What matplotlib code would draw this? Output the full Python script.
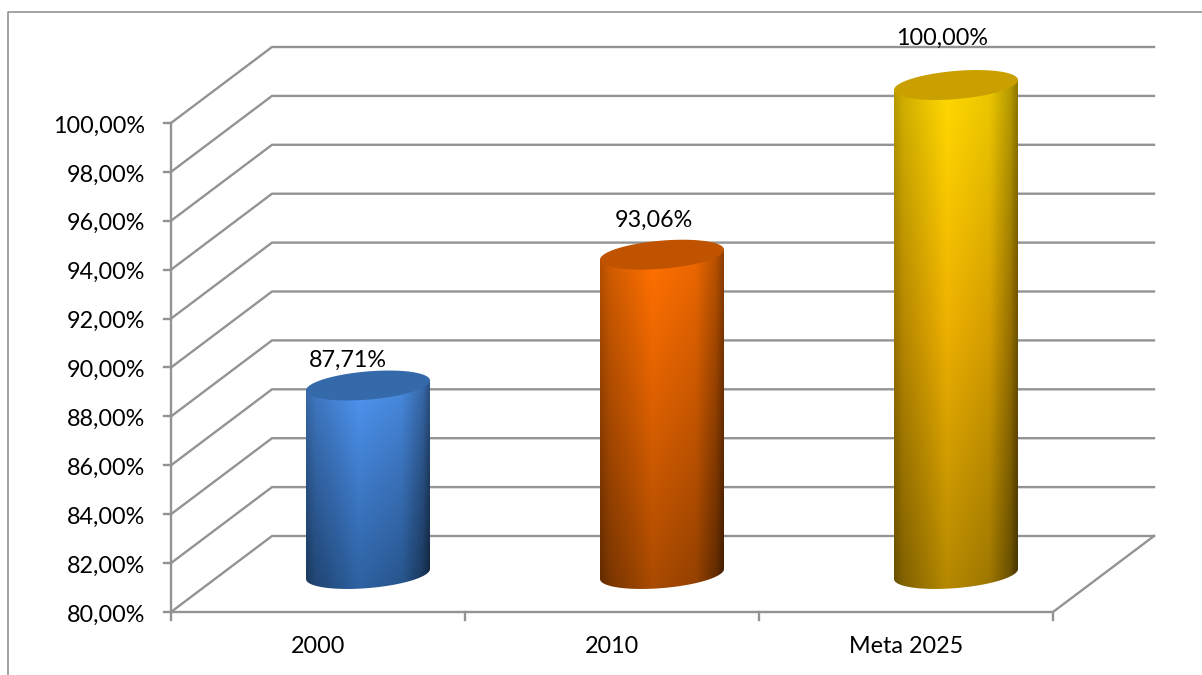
import numpy as np
import matplotlib
matplotlib.use("Agg")
import matplotlib.pyplot as plt
from matplotlib.lines import Line2D
from matplotlib.patches import Polygon
from matplotlib.colors import to_rgb

categories = ["2000", "2010", "Meta 2025"]
values = [87.71, 93.06, 100.00]
value_labels = ["87,71%", "93,06%", "100,00%"]
y_ticks = [80, 82, 84, 86, 88, 90, 92, 94, 96, 98, 100]
y_tick_labels = ["80,00%", "82,00%", "84,00%", "86,00%", "88,00%", "90,00%",
                 "92,00%", "94,00%", "96,00%", "98,00%", "100,00%"]
top_colors = ["#4F96F2", "#FF7000", "#FFD600"]
mid_colors = ["#3F7CCB", "#DA5F00", "#EDB000"]
bottom_colors = ["#2C609F", "#A84A00", "#B48800"]
lid_colors = ["#3469AA", "#C05300", "#C9A000"]
label_offsets = [(-20, 65), (-8, 74), (-14, 86)]  # px from column front top

W, H = 1202, 675
GRID = "#939393"
FONT = "Lato"
FS = 16.8

fig = plt.figure(figsize=(W / 100, H / 100), dpi=100, facecolor="white")
L, R, B, T = 171, 1053, 612, 123
ax = fig.add_axes([L / W, 1 - B / H, (R - L) / W, (B - T) / H])
ax.set_xlim(0, 3)
ax.set_ylim(80, 100)
ax.axis("off")

ux = (R - L) / 3      # px per category
uy = (B - T) / 20     # px per value unit
dx, dy = 101 / ux, 76 / uy  # depth of the 3D box in data units

# frame of the chart object
fig.add_artist(Line2D([7.5 / W, 7.5 / W, 1], [0, 1 - 11.5 / H, 1 - 11.5 / H],
                      color="#8a8a8a", lw=1.1))

lk = dict(color=GRID, lw=1.7, clip_on=False, solid_joinstyle="miter", zorder=1)
for i, t in enumerate(y_ticks):
    ax.plot([0, dx, 3 + dx], [t, t + dy, t + dy], **lk)
    ax.plot([-7 / ux, 0], [t, t], **lk)
    ax.text(-26 / ux, t - 3 / uy, y_tick_labels[i], ha="right", va="center",
            family=FONT, fontsize=FS, color="black", clip_on=False)
ax.plot([0, 0], [80, 100], **lk)
ax.plot([0, 3, 3 + dx], [80, 80, 80 + dy], **lk)
for i in range(4):
    ax.plot([i, i], [80, 80 - 8 / uy], **lk)
for i, c in enumerate(categories):
    ax.text(i + 0.5, 80 - 35 / uy, c,
            ha="center", va="center", family=FONT, fontsize=FS, color="black",
            clip_on=False)

# cylinders
a = 62 / ux          # half width
tilt = 5 / uy        # rise of the ellipse's long axis
b = 14.1 / uy        # remaining minor extent
off_x, off_y = 50 / ux, 38 / uy
tt = np.linspace(0, 2 * np.pi, 200)


def ellipse(cx, cy):
    return cx + a * np.cos(tt), cy + tilt * np.cos(tt) + b * np.sin(tt)


for i, (v, c_top, c_mid, c_bot, lid) in enumerate(
        zip(values, top_colors, mid_colors, bottom_colors, lid_colors)):
    cx = i + 0.5 + off_x
    y0, y1 = 80 + off_y, v + off_y
    t_low = np.linspace(np.pi, 2 * np.pi, 100)
    xl = cx + a * np.cos(t_low)
    yl = y0 + tilt * np.cos(t_low) + b * np.sin(t_low)
    poly = np.column_stack([np.r_[xl, cx + a, cx - a],
                            np.r_[yl, y1 + tilt, y1 - tilt]])
    nx, ny = 200, 300
    u = np.linspace(-1, 1, nx)
    d = np.linspace(0, 1, ny)  # 0 at top, 1 at bottom
    fx = np.interp(u, [-1, -0.85, -0.15, 0.55, 0.88, 1], [0.72, 0.82, 1.0, 0.92, 0.72, 0.56])
    rgb = np.array([to_rgb(c_top), to_rgb(c_mid), to_rgb(c_bot)])
    pos = [0.08, 0.5, 1.0]
    col = np.stack([np.interp(d, pos, rgb[:, k]) for k in range(3)], axis=1)
    power = 1 + 0.7 * d
    shade = fx[None, :] ** power[:, None]
    img = np.clip(col[:, None, :] * shade[..., None], 0, 1)
    ymin, ymax = y0 - b - tilt, y1 + b + tilt
    im = ax.imshow(img, extent=[cx - a, cx + a, ymin, ymax], origin="upper",
                   aspect="auto", interpolation="bilinear", zorder=3)
    p = Polygon(poly, closed=True, transform=ax.transData, fc="none", ec="none", clip_on=False)
    ax.add_patch(p)
    im.set_clip_box(fig.bbox)
    im.set_clip_path(p)
    ex, ey = ellipse(cx, y1)
    ax.fill(ex, ey, color=lid, lw=0, zorder=4, clip_on=False)
    ax.annotate(value_labels[i], xy=(i + 0.5 + off_x, v),
                xytext=(label_offsets[i][0] * 0.72, (label_offsets[i][1] - 1.5) * 0.72),
                textcoords="offset points", ha="center", va="center",
                family=FONT, fontsize=FS, color="black", annotation_clip=False,
                zorder=5)

ax.set_xlim(0, 3)
ax.set_ylim(80, 100)
fig.savefig("out.png", dpi=100, facecolor="white")
